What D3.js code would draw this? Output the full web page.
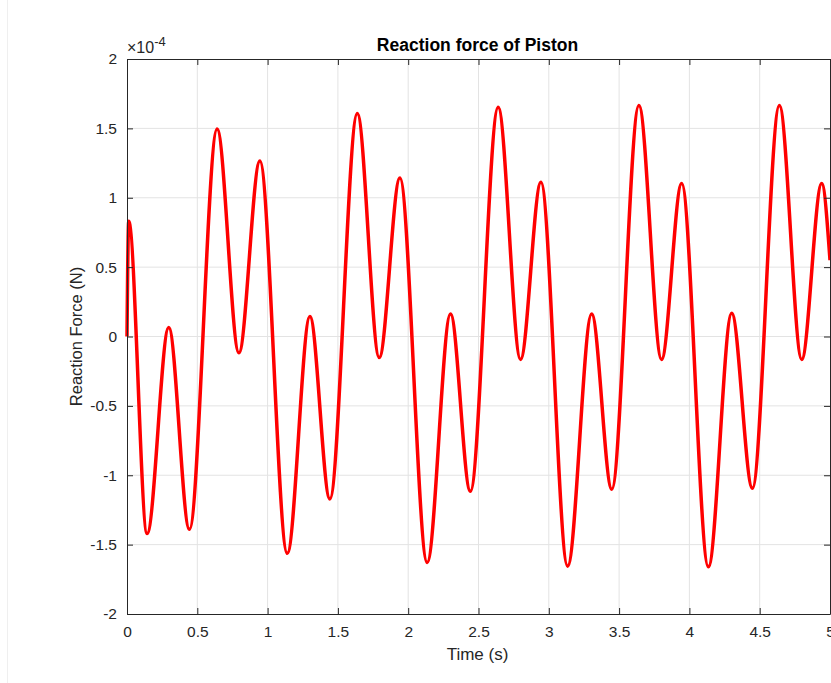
<!DOCTYPE html>
<html>
<head>
<meta charset="utf-8">
<script src="https://cdn.jsdelivr.net/npm/d3@7"></script>
<style>
html,body{margin:0;padding:0;background:#fff;}
svg{display:block;}
text{font-family:"Liberation Sans",Arial,Helvetica,sans-serif;}
</style>
</head>
<body>
<script>
// ---- data (y in units of 1e-4 N) ----
const timeS = [0, 0.012, 0.143, 0.297, 0.444, 0.641, 0.796, 0.945, 1.140, 1.301, 1.443, 1.638, 1.794, 1.941, 2.135, 2.301, 2.442, 2.640, 2.799, 2.944, 3.134, 3.305, 3.448, 3.641, 3.802, 3.945, 4.135, 4.301, 4.448, 4.640, 4.799, 4.941, 5.0];
const forceE4 = [0, 0.83, -1.42, 0.065, -1.39, 1.495, -0.118, 1.265, -1.563, 0.144, -1.171, 1.608, -0.152, 1.142, -1.629, 0.162, -1.115, 1.652, -0.165, 1.111, -1.655, 0.162, -1.10, 1.665, -0.165, 1.103, -1.66, 0.168, -1.093, 1.665, -0.165, 1.103, 0.55];
const xTicks = [0, 0.5, 1, 1.5, 2, 2.5, 3, 3.5, 4, 4.5, 5];
const yTicks = [-2, -1.5, -1, -0.5, 0, 0.5, 1, 1.5, 2];
const titleText = "Reaction force of Piston";
const xLabelText = "Time (s)";
const yLabelText = "Reaction Force (N)";

const W = 831, H = 683;
const L = 127, R = 830, T = 59, B = 614;

const svg = d3.select("body").append("svg").attr("width", W).attr("height", H);
svg.append("rect").attr("width", W).attr("height", H).attr("fill", "#fff");
// faint page border line on the left
svg.append("line").attr("x1", 7.5).attr("x2", 7.5).attr("y1", 0).attr("y2", H)
  .attr("stroke", "#efefef").attr("stroke-width", 1);

const x = d3.scaleLinear().domain([0, 5]).range([L, R]);
const y = d3.scaleLinear().domain([-2, 2]).range([B, T]);

const axisCol = "#262626";
const fs = 15.5;

// grid
const grid = svg.append("g");
grid.selectAll(".gx").data(xTicks.slice(1, -1)).enter().append("line")
  .attr("x1", d => x(d)).attr("x2", d => x(d)).attr("y1", T).attr("y2", B)
  .attr("stroke", "#e3e3e3").attr("stroke-width", 1);
grid.selectAll(".gy").data(yTicks.slice(1, -1)).enter().append("line")
  .attr("y1", d => y(d)).attr("y2", d => y(d)).attr("x1", L).attr("x2", R)
  .attr("stroke", "#e3e3e3").attr("stroke-width", 1);

// data line
const data = timeS.map((t, i) => [t, forceE4[i]]);
svg.append("clipPath").attr("id", "clip").append("rect")
  .attr("x", L - 2).attr("y", T).attr("width", R - L + 2).attr("height", B - T);
svg.append("path").datum(data)
  .attr("clip-path", "url(#clip)")
  .attr("fill", "none").attr("stroke", "#ff0000").attr("stroke-width", 3.5)
  .attr("stroke-linejoin", "round").attr("stroke-linecap", "butt")
  .attr("d", d3.line().x(d => x(d[0])).y(d => y(d[1])).curve(d3.curveMonotoneX));

// axes (ticks inside, MATLAB-like)
const fmt = d => (d < 0 ? "-" : "") + String(Math.abs(d));
const xAxisB = d3.axisBottom(x).tickValues(xTicks).tickSizeInner(-6).tickSizeOuter(0).tickPadding(12).tickFormat(fmt);
const xAxisT = d3.axisTop(x).tickValues(xTicks).tickSizeInner(-6).tickSizeOuter(0).tickFormat("");
const yAxisL = d3.axisLeft(y).tickValues(yTicks).tickSizeInner(-6).tickSizeOuter(0).tickPadding(10).tickFormat(fmt);
const yAxisR = d3.axisRight(y).tickValues(yTicks).tickSizeInner(-6).tickSizeOuter(0).tickFormat("");

function style(g) {
  g.selectAll("path").attr("stroke", axisCol).attr("stroke-width", 1);
  g.selectAll("line").attr("stroke", axisCol).attr("stroke-width", 1);
  g.selectAll("text").attr("fill", axisCol).style("font-size", fs + "px")
    .style("font-family", '"Liberation Sans",Arial,Helvetica,sans-serif');
}
svg.append("g").attr("transform", `translate(0,${B})`).call(xAxisB).call(style);
svg.append("g").attr("transform", `translate(0,${T})`).call(xAxisT).call(style);
svg.append("g").attr("transform", `translate(${L},0)`).call(yAxisL).call(style);
svg.append("g").attr("transform", `translate(${R},0)`).call(yAxisR).call(style);

// exponent label
const ex = svg.append("text").attr("x", 127).attr("y", 53).attr("fill", axisCol)
  .style("font-size", "16px");
ex.append("tspan").text("\u00d710");
ex.append("tspan").attr("dy", -7).style("font-size", "13px").text("-4");

// title
svg.append("text").attr("x", (L + R) / 2 - 1).attr("y", 51).attr("text-anchor", "middle")
  .attr("fill", "#000").style("font-size", "17.5px").style("font-weight", "bold").text(titleText);

// axis labels
svg.append("text").attr("x", (L + R) / 2 - 1).attr("y", 660).attr("text-anchor", "middle")
  .attr("fill", axisCol).style("font-size", "17px").text(xLabelText);
svg.append("text").attr("transform", `translate(82,${(T + B) / 2}) rotate(-90)`)
  .attr("text-anchor", "middle").attr("fill", axisCol).style("font-size", "16.5px").text(yLabelText);
</script>
</body>
</html>
